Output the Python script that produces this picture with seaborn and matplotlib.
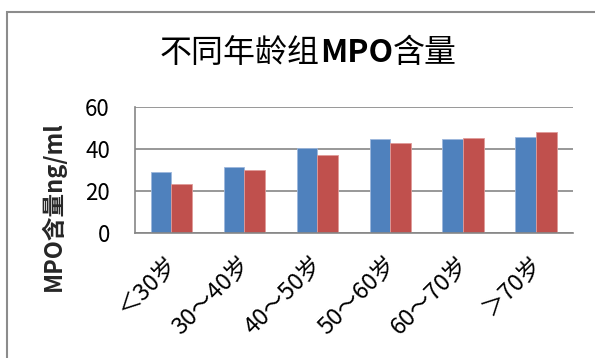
import matplotlib
matplotlib.use("Agg")
import matplotlib.pyplot as plt
import matplotlib.transforms as mtrans
import seaborn as sns
import pandas as pd
from matplotlib.patches import Rectangle

categories = ["＜30岁", "30～40岁", "40～50岁", "50～60岁", "60～70岁", "＞70岁"]
series_a = [29.0, 31.4, 40.4, 44.7, 44.7, 45.5]
series_b = [23.2, 29.7, 36.8, 42.8, 45.2, 47.8]
series_names = ["A", "B"]
yticks = [0, 20, 40, 60]
title_parts = [("不同年龄组", "normal"), ("MPO", "bold"), ("含量", "normal")]

df = pd.DataFrame({
    "cat": categories * 2,
    "val": series_a + series_b,
    "series": [series_names[0]] * len(categories) + [series_names[1]] * len(categories),
})

sns.set_theme(style="white")
plt.rcParams['font.family'] = ['Noto Sans CJK SC', 'DejaVu Sans']

fig = plt.figure(figsize=(5.95, 3.58), dpi=100)
ax = fig.add_axes([135 / 595, 1 - 232.7 / 358, (572.7 - 135) / 595, (232.7 - 106.7) / 358])

sns.barplot(data=df, x="cat", y="val", hue="series", order=categories,
            palette=["#4F81BD", "#C0504D"], width=0.57, ax=ax, legend=False,
            saturation=1, edgecolor="none")
for i, p in enumerate(ax.patches):
    p.set_edgecolor("#9DB7DC" if i < len(categories) else "#E09A98")
    p.set_linewidth(0.6)

ax.set_ylim(0, 60)
ax.set_yticks(yticks)
ax.set_xlim(-0.5, len(categories) - 0.5)
ax.yaxis.grid(True, color="#868686", linewidth=1.2)
ax.set_axisbelow(True)
for s in ["top", "right"]:
    ax.spines[s].set_visible(False)
for s in ["left", "bottom"]:
    ax.spines[s].set_color("#868686")
    ax.spines[s].set_linewidth(1.2)
ax.tick_params(axis="both", length=0, colors="black")
ax.tick_params(axis="y", pad=18, labelsize=16)
ax.set_xlabel("")
ax.set_ylabel("MPO含量ng/ml", fontsize=17, fontweight="bold")
ax.yaxis.set_label_coords((66 - 135) / 437.7, (232.7 - 206) / 126)
ax.set_xticks(range(len(categories)))
ax.set_xticklabels(categories, rotation=45, ha="right", va="top",
                   rotation_mode="anchor", fontsize=17)
ax.tick_params(axis="x", pad=14)
shift = mtrans.ScaledTranslation(-6 / 100, 0, fig.dpi_scale_trans)
for lab in ax.get_xticklabels():
    lab.set_fontfamily(['Noto Sans CJK SC', 'DejaVu Sans'])
    lab.set_transform(lab.get_transform() + shift)

# title with bold "MPO", all pieces on one baseline
baseline_px = 358 - 62
texts = [fig.text(0, 0, t, ha="left", va="baseline", fontsize=23, fontweight=w,
                  color="black", transform=mtrans.IdentityTransform())
         for t, w in title_parts]
fig.canvas.draw()
x = 160
for t in texts:
    t.set_position((x, baseline_px))
    x += t.get_window_extent().width

fig.patches.append(Rectangle((7 / 595, -0.1), 1.2, 1 - 12 / 358 + 0.1,
                             transform=fig.transFigure, fill=False,
                             edgecolor="#8C8C8C", linewidth=1.5, zorder=0))

fig.savefig("out.png", dpi=100)
